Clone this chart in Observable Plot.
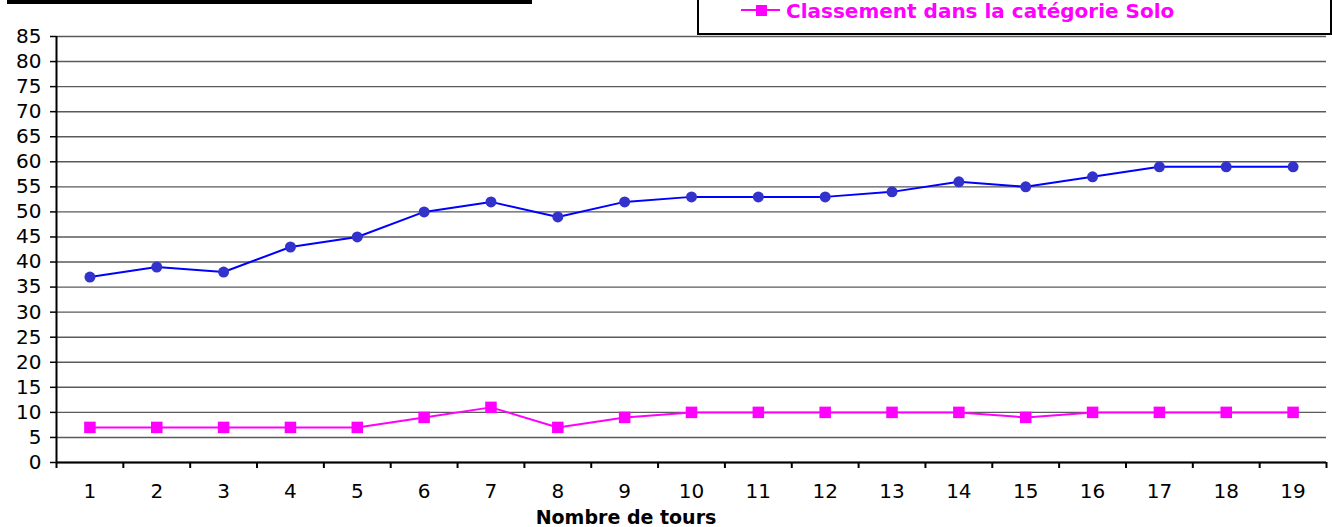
<!DOCTYPE html>
<html>
<head>
<meta charset="utf-8">
<script src="https://cdn.jsdelivr.net/npm/d3@7"></script>
<script src="https://cdn.jsdelivr.net/npm/@observablehq/plot@0.6"></script>
<style>
  html, body { margin: 0; padding: 0; background: #fff; }
  #chart { position: relative; width: 1332px; height: 527px; }
</style>
</head>
<body>
<div id="chart"></div>
<script>
// Data
const tours = [1, 2, 3, 4, 5, 6, 7, 8, 9, 10, 11, 12, 13, 14, 15, 16, 17, 18, 19];
const classementGeneral = [37, 39, 38, 43, 45, 50, 52, 49, 52, 53, 53, 53, 54, 56, 55, 57, 59, 59, 59];
const classementSolo = [7, 7, 7, 7, 7, 9, 11, 7, 9, 10, 10, 10, 10, 10, 9, 10, 10, 10, 10];
const yTicks = d3.range(0, 90, 5);
const xBoundaries = d3.range(0.5, 20, 1);
const xTitle = "Nombre de tours";
const legendLabel = "Classement dans la catégorie Solo";

const general = tours.map((t, i) => ({tour: t, value: classementGeneral[i]}));
const solo = tours.map((t, i) => ({tour: t, value: classementSolo[i]}));

const FONT = "DejaVu Sans, sans-serif";

const plot = Plot.plot({
  width: 1332,
  height: 527,
  marginLeft: 56,
  marginRight: 6,
  marginTop: 36,
  marginBottom: 65,
  style: {fontFamily: FONT, fontSize: "20px", color: "#000", background: "#fff"},
  x: {type: "linear", domain: [0.5, 19.5]},
  y: {type: "linear", domain: [0, 85]},
  marks: [
    Plot.gridY(yTicks, {stroke: "#5a5a5a", strokeOpacity: 1, strokeWidth: 1.4}),
    Plot.axisY(yTicks, {tickSize: 6, tickPadding: 9, tickFormat: d => String(d), fontSize: 20, label: null, stroke: "#000", strokeWidth: 1.5}),
    Plot.axisX(xBoundaries, {tickSize: 6, tickFormat: () => "", label: null, stroke: "#000", strokeWidth: 2}),
    Plot.axisX(tours, {tickSize: 0, tickPadding: 21, tickFormat: d => String(d), fontSize: 20, label: null}),
    Plot.ruleY([0], {stroke: "#000", strokeWidth: 2}),
    Plot.ruleX([0.5], {stroke: "#000", strokeWidth: 2}),
    Plot.line(general, {x: "tour", y: "value", stroke: "#0000ff", strokeWidth: 2}),
    Plot.dot(general, {x: "tour", y: "value", r: 5.5, fill: "#3333cc", stroke: "none"}),
    Plot.line(solo, {x: "tour", y: "value", stroke: "#ff00ff", strokeWidth: 2}),
    Plot.dot(solo, {x: "tour", y: "value", symbol: "square", r: 6.5, fill: "#ff00ff", stroke: "none"})
  ]
});

document.getElementById("chart").appendChild(plot);

// Decorations: title bar remnant, legend box, x-axis title
const svg = d3.select(plot);
svg.append("rect").attr("x", 7).attr("y", -2).attr("width", 525).attr("height", 6).attr("fill", "#000");
const lg = svg.append("g");
lg.append("rect").attr("x", 698).attr("y", -4).attr("width", 633).attr("height", 38)
  .attr("fill", "#fff").attr("stroke", "#000").attr("stroke-width", 2);
lg.append("line").attr("x1", 741).attr("x2", 780).attr("y1", 10).attr("y2", 10)
  .attr("stroke", "#ff00ff").attr("stroke-width", 2);
lg.append("rect").attr("x", 756).attr("y", 5).attr("width", 11).attr("height", 11).attr("fill", "#ff00ff");
lg.append("text").attr("x", 786).attr("y", 18).attr("text-anchor", "start").text(legendLabel)
  .attr("fill", "#ff00ff").attr("font-weight", "bold").attr("font-size", 20).attr("font-family", FONT);
svg.append("text").attr("x", 626).attr("y", 524).attr("text-anchor", "middle").text(xTitle)
  .attr("font-weight", "bold").attr("font-size", 19).attr("font-family", FONT).attr("fill", "#000");
</script>
</body>
</html>
